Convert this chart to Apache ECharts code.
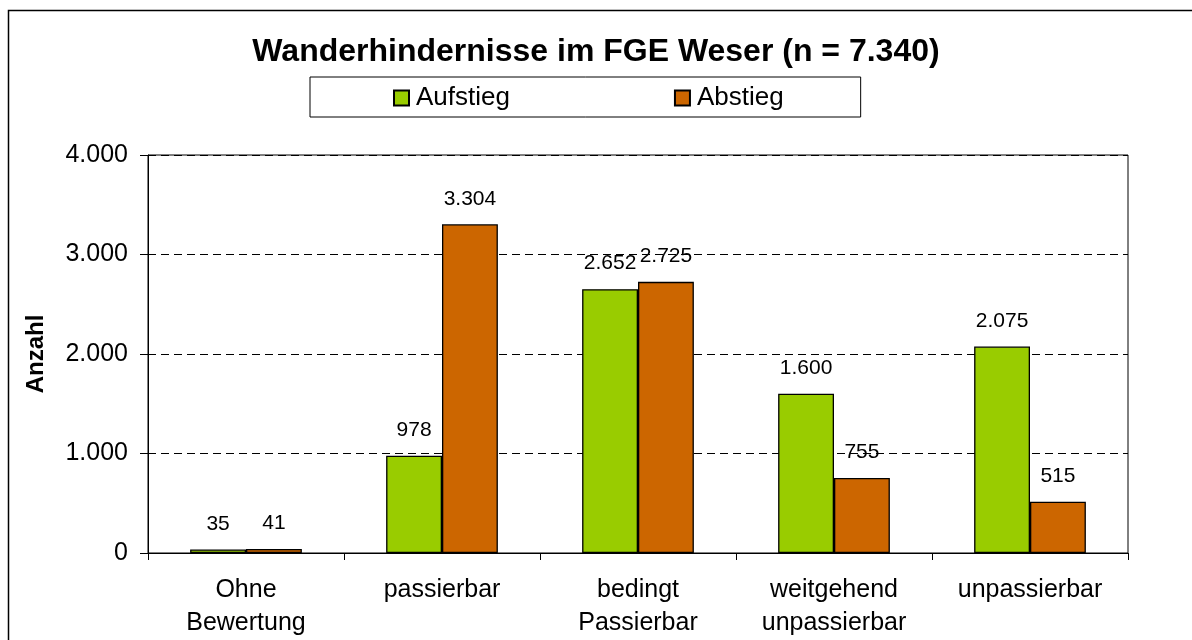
<!DOCTYPE html>
<html>
<head>
<meta charset="utf-8">
<script src="https://cdn.jsdelivr.net/npm/echarts@6/dist/echarts.min.js"></script>
<style>
  html, body { margin: 0; padding: 0; background: #fff; }
  #chart { width: 1192px; height: 640px; }
</style>
</head>
<body>
<div id="chart"></div>
<script>
// Daten
var categories = ['Ohne\nBewertung', 'passierbar', 'bedingt\nPassierbar', 'weitgehend\nunpassierbar', 'unpassierbar'];
var aufstieg = [35, 978, 2652, 1600, 2075];
var abstieg = [41, 3304, 2725, 755, 515];
var seriesNames = ['Aufstieg', 'Abstieg'];
var yTicks = [0, 1000, 2000, 3000, 4000];

var font = 'Arial, "Liberation Sans", sans-serif';

function fmt(v) {
    // deutsche Tausendertrennung
    return String(v).replace(/\B(?=(\d{3})+(?!\d))/g, '.');
}

var chartDom = document.getElementById('chart');
var myChart = echarts.init(chartDom);
var option;

function barSeries(name, data, color) {
    return {
        name: name,
        type: 'bar',
        data: data,
        barGap: '0%',
        barCategoryGap: '43%',
        itemStyle: { color: color, borderColor: '#000', borderWidth: 1.3 },
        label: {
            show: true,
            position: 'top',
            distance: 15,
            color: '#000',
            fontFamily: font,
            fontSize: 21,
            formatter: function (p) { return fmt(p.value); }
        }
    };
}

option = {
    backgroundColor: '#fff',
    animation: false,
    title: {
        text: 'Wanderhindernisse im FGE Weser (n = 7.340)',
        left: 'center',
        top: 31,
        textStyle: { fontFamily: font, fontWeight: 'bold', fontSize: 32, color: '#000' }
    },
    legend: {
        data: seriesNames,
        left: 310,
        top: 77,
        orient: 'horizontal',
        icon: 'rect',
        itemWidth: 15,
        itemHeight: 15,
        itemGap: 164,
        padding: [8, 77, 6, 83],
        borderColor: '#000',
        borderWidth: 1,
        textStyle: { fontFamily: font, fontSize: 26, color: '#000', padding: [0, 0, 0, 2] }
    },
    grid: { left: 148, right: 64, top: 155, bottom: 87, show: true, borderColor: '#000', borderWidth: 1 },
    xAxis: {
        type: 'category',
        data: categories,
        axisLine: { lineStyle: { color: '#000', width: 1 } },
        axisTick: { show: true, alignWithLabel: false, length: 7, lineStyle: { color: '#000' } },
        axisLabel: { color: '#000', fontFamily: font, fontSize: 25, lineHeight: 33, margin: 21, interval: 0 }
    },
    yAxis: {
        type: 'value',
        min: yTicks[0],
        max: yTicks[yTicks.length - 1],
        interval: 1000,
        name: 'Anzahl',
        nameLocation: 'middle',
        nameGap: 100,
        nameRotate: 90,
        nameTextStyle: { fontFamily: font, fontWeight: 'bold', fontSize: 24, color: '#000' },
        axisLine: { show: true, lineStyle: { color: '#000', width: 1 } },
        axisTick: { show: true, length: 8, lineStyle: { color: '#000' } },
        axisLabel: { color: '#000', fontFamily: font, fontSize: 25, margin: 20, formatter: fmt },
        splitLine: { show: true, lineStyle: { color: '#000', type: [8, 5], width: 1 } }
    },
    graphic: [
        {
            type: 'rect',
            shape: { x: 8.5, y: 10.5, width: 1250, height: 700 },
            style: { fill: null, stroke: '#000', lineWidth: 1.5 },
            silent: true
        }
    ],
    series: [
        barSeries(seriesNames[0], aufstieg, '#99cc00'),
        barSeries(seriesNames[1], abstieg, '#cc6600')
    ]
};
option && myChart.setOption(option);
</script>
</body>
</html>
